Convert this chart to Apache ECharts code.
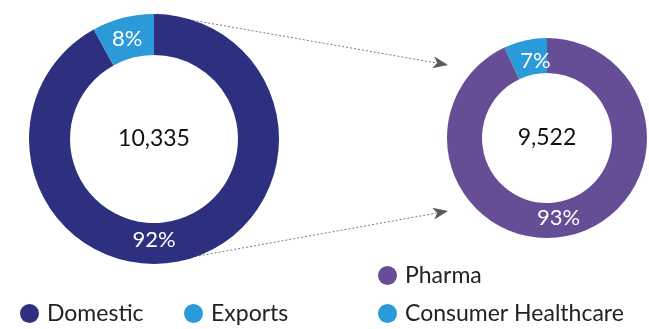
<!DOCTYPE html>
<html>
<head>
<meta charset="utf-8">
<script src="https://cdn.jsdelivr.net/npm/echarts@6/dist/echarts.min.js"></script>
<style>
  html, body { margin: 0; padding: 0; background: #fff; }
  #chart { width: 649px; height: 329px; }
</style>
</head>
<body>
<div id="chart"></div>
<script>
// Revenue split: by market (left ring) and by business (right ring)
const marketNames = ['Domestic', 'Exports'];
const marketShares = [92, 8];
const marketTotal = '10,335';

const businessNames = ['Pharma', 'Consumer Healthcare'];
const businessShares = [93, 7];
const businessTotal = '9,522';

const FONT = 'Lato, "Noto Sans", sans-serif';
const colMarket = ['#2D2F7F', '#2B9AD8'];
const colBusiness = ['#654E95', '#2B9AD8'];

// ring geometry
const L = { cx: 154, cy: 139, r0: 84, r1: 125 };
const R = { cx: 547, cy: 138, r0: 65, r1: 100 };

// small nudges for the share labels inside each ring
const marketLabelShift = [[0, -4], [0, 4]];
const businessLabelShift = [[-7, -4], [7, 6]];

const chart = echarts.init(document.getElementById('chart'), null, { renderer: 'canvas' });

function arrow(x1, y1, x2, y2) {
  const ang = Math.atan2(y2 - y1, x2 - x1);
  const len = 15, half = 6;
  const bx = x2 - len * Math.cos(ang), by = y2 - len * Math.sin(ang);
  const nx = -Math.sin(ang), ny = Math.cos(ang);
  return [
    { type: 'line', silent: true,
      shape: { x1: x1, y1: y1, x2: bx + 3 * Math.cos(ang), y2: by + 3 * Math.sin(ang) },
      style: { stroke: '#7a7a7a', lineWidth: 1, lineDash: [2, 2] } },
    { type: 'polygon', silent: true,
      shape: { points: [[x2, y2], [bx + nx * half, by + ny * half], [bx + 4 * Math.cos(ang), by + 4 * Math.sin(ang)], [bx - nx * half, by - ny * half]] },
      style: { fill: '#5a5a5a' } }
  ];
}

const makeData = (names, vals, cols) => names.map((n, i) => ({ name: n, value: vals[i], itemStyle: { color: cols[i] } }));

const legendBase = {
  orient: 'horizontal', padding: 0, icon: 'circle', itemWidth: 19, itemHeight: 19,
  textStyle: { fontFamily: FONT, fontSize: 23, color: '#222', padding: [0, 0, 0, 3] }
};

chart.setOption({
  animation: false,
  textStyle: { fontFamily: FONT },
  legend: [
    Object.assign({}, legendBase, { data: [marketNames[0]], left: 20, top: 302 }),
    Object.assign({}, legendBase, { data: [marketNames[1]], left: 184, top: 302 }),
    Object.assign({}, legendBase, { data: [businessNames[0]], left: 378, top: 264 }),
    Object.assign({}, legendBase, { data: [businessNames[1]], left: 378, top: 302 })
  ],
  series: [
    {
      type: 'pie', name: 'Market', center: [L.cx, L.cy], radius: [L.r0, L.r1],
      startAngle: 90, clockwise: true, silent: true,
      label: { show: true, position: 'inside', formatter: '{c}%', color: '#fff', fontSize: 22, fontFamily: FONT },
      labelLine: { show: false },
      labelLayout: function (p) {
        if (p.dataIndex === 0) {
          // keep the large share's label centred under the ring
          return { x: L.cx, y: L.cy + (L.r0 + L.r1) / 2 + marketLabelShift[0][1], align: 'center', verticalAlign: 'middle' };
        }
        return { dx: marketLabelShift[1][0], dy: marketLabelShift[1][1] };
      },
      data: makeData(marketNames, marketShares, colMarket)
    },
    {
      type: 'pie', name: 'Business', center: [R.cx, R.cy], radius: [R.r0, R.r1],
      startAngle: 90, clockwise: true, silent: true,
      label: { show: true, position: 'inside', formatter: '{c}%', color: '#fff', fontSize: 22, fontFamily: FONT },
      labelLine: { show: false },
      labelLayout: function (p) {
        const s = businessLabelShift[p.dataIndex];
        return { dx: s[0], dy: s[1] };
      },
      data: makeData(businessNames, businessShares, colBusiness)
    }
  ],
  graphic: [
    { type: 'text', silent: true,
      style: { text: marketTotal, x: L.cx, y: L.cy, align: 'center', verticalAlign: 'middle', fontSize: 23, fontFamily: FONT, fill: '#111' } },
    { type: 'text', silent: true,
      style: { text: businessTotal, x: R.cx, y: R.cy, align: 'center', verticalAlign: 'middle', fontSize: 23, fontFamily: FONT, fill: '#111' } }
  ].concat(
    arrow(L.cx + 3, L.cy - L.r1, R.cx - R.r1 + 1, R.cy - 73),
    arrow(L.cx + 33, L.cy + L.r1 - 6, R.cx - R.r1 + 1, R.cy + 73)
  )
});
</script>
</body>
</html>
